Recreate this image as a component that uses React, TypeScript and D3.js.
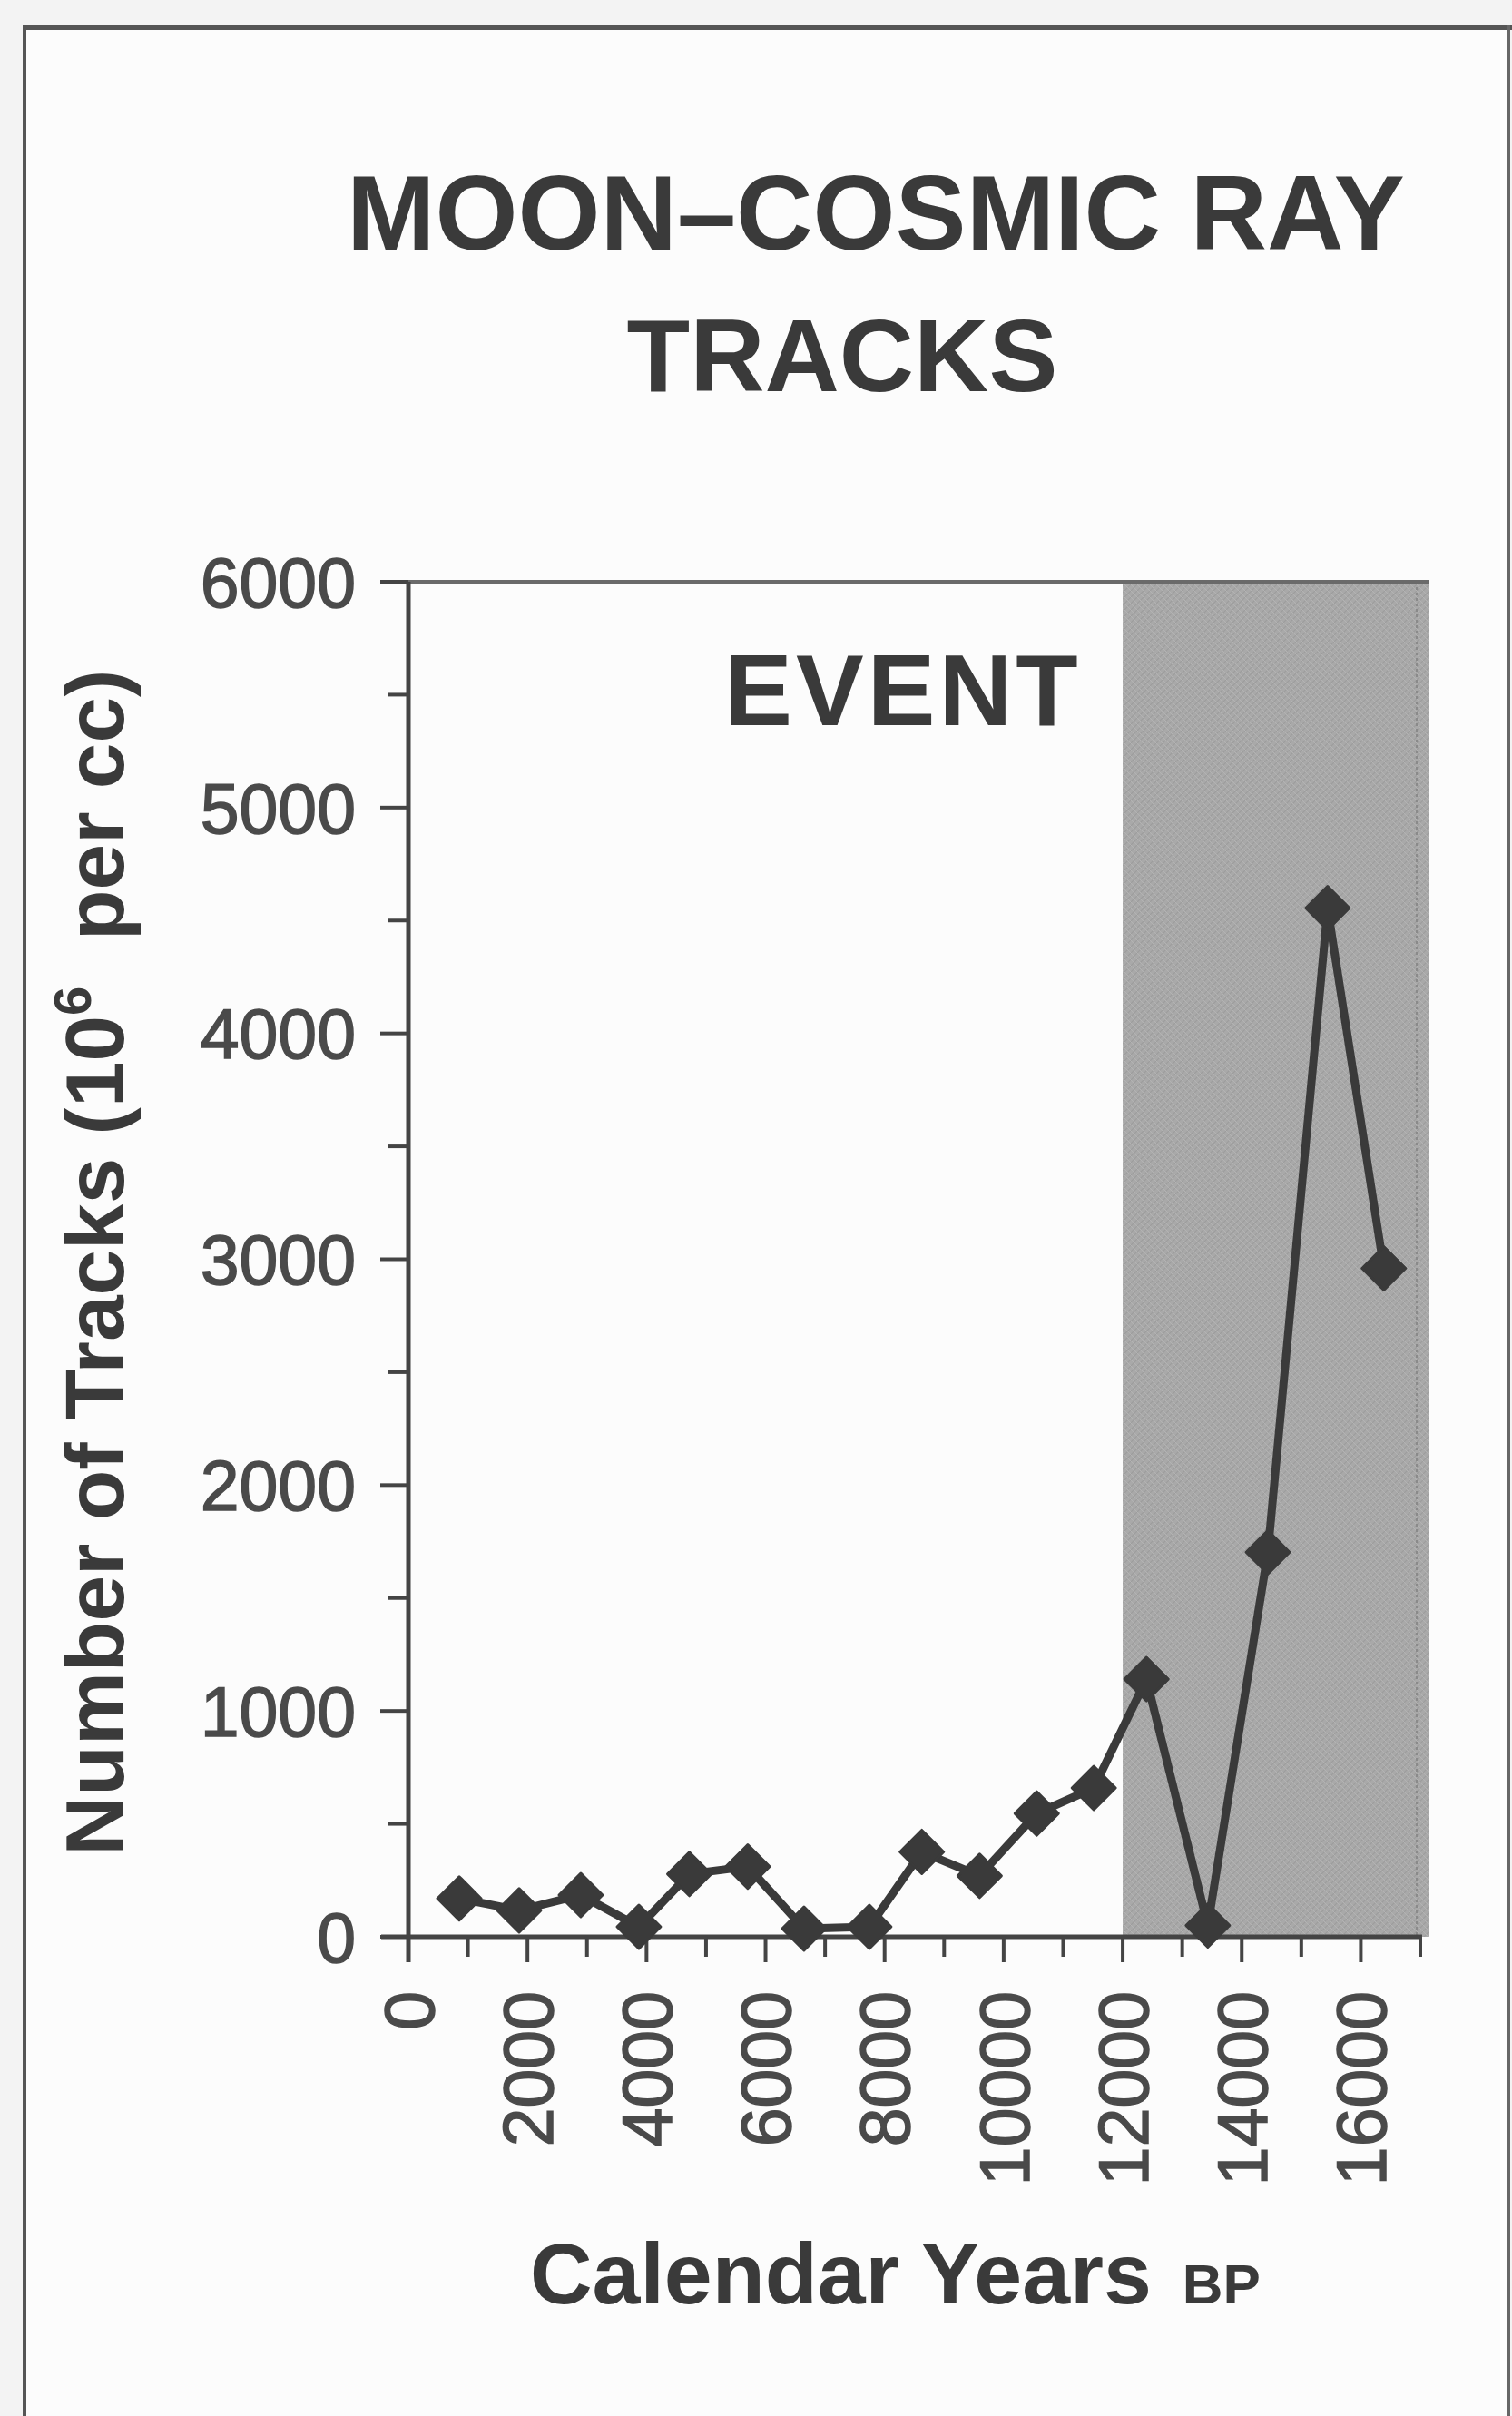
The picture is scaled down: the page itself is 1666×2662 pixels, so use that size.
import React from "react";
import * as d3 from "d3";

// ---- data ----
const years = [854, 1860, 2896, 3872, 4720, 5701, 6646, 7744, 8625, 9596, 10555, 11514, 12399, 13430, 14439, 15442, 16387];
const tracks = [170, 117, 185, 44, 278, 311, 36, 44, 376, 270, 546, 659, 1141, 50, 1703, 4555, 2960];
const yMajorTicks = [0, 1000, 2000, 3000, 4000, 5000, 6000];
const yMinorTicks = [500, 1500, 2500, 3500, 4500, 5500];
const xMajorTicks = [0, 2000, 4000, 6000, 8000, 10000, 12000, 14000, 16000];
const xMinorTicks = [1000, 3000, 5000, 7000, 9000, 11000, 13000, 15000, 17000];
const eventSpan = [12000, 17000];
const titleLines = ["MOON\u2013COSMIC RAY", "TRACKS"];
const eventLabel = "EVENT";
const yTitle = ["Number of Tracks (10", "6", "  per cc)"];
const xTitle = ["Calendar Years", "BP"];

const W = 1666;
const H = 2662;
const FONT = "'Liberation Sans', Arial, Helvetica, sans-serif";
const INK = "#3a3a3a";

export default function App() {
  const x = d3.scaleLinear().domain([0, 17000]).range([450, 1565]);
  const y = d3.scaleLinear().domain([0, 6000]).range([2134, 641]);
  const line = d3
    .line<number>()
    .x((_, i) => x(years[i]))
    .y((d) => y(d))
    .curve(d3.curveLinear);
  const diamond = d3.symbol().type(d3.symbolSquare).size(1150)();

  const x0 = x(0);
  const y0 = y(0);
  const yTop = y(6000);

  return (
    <div style={{ position: "absolute", left: 0, top: 0, width: W, height: H }}>
      <svg width={W} height={H} viewBox={`0 0 ${W} ${H}`} style={{ display: "block" }}>
        <defs>
          <pattern id="hatch" width="7" height="7" patternUnits="userSpaceOnUse">
            <rect width="7" height="7" fill="#a9a9a9" />
            <path d="M0,7 L7,0" stroke="#9d9d9d" strokeWidth="1.2" />
            <path d="M0,0 L7,7" stroke="#b3b3b3" strokeWidth="1" />
          </pattern>
        </defs>
        <rect x={0} y={0} width={W} height={H} fill="#f3f3f3" />
        <rect x={27} y={30} width={1635} height={H} fill="#fcfcfc" />
        {/* frame */}
        <line x1={27} y1={30} x2={W} y2={30} stroke="#555" strokeWidth={6} />
        <line x1={27} y1={28} x2={27} y2={H} stroke="#555" strokeWidth={4} />
        <line x1={1662} y1={28} x2={1662} y2={H} stroke="#666" strokeWidth={4} />

        {/* title */}
        <text x={965} y={275} textAnchor="middle" fontFamily={FONT} fontWeight="bold" fontSize={117} fill={INK}>
          {titleLines[0]}
        </text>
        <text x={928} y={431} textAnchor="middle" fontFamily={FONT} fontWeight="bold" fontSize={114} fill={INK}>
          {titleLines[1]}
        </text>

        {/* event shading */}
        <rect
          x={x(eventSpan[0])}
          y={yTop}
          width={x(eventSpan[1]) - x(eventSpan[0]) + 10}
          height={y0 - yTop}
          fill="url(#hatch)"
        />
        <line
          x1={x(eventSpan[1]) - 4}
          x2={x(eventSpan[1]) - 4}
          y1={yTop}
          y2={y0}
          stroke="#8a8a8a"
          strokeWidth={2}
          strokeDasharray="3 3"
        />

        {/* plot top border */}
        <line x1={x0 - 30} x2={x(eventSpan[1]) + 10} y1={yTop} y2={yTop} stroke="#6a6a6a" strokeWidth={4} />

        {/* event label */}
        <text x={995} y={799} textAnchor="middle" fontFamily={FONT} fontWeight="bold" fontSize={112} letterSpacing={4} fill={INK}>
          {eventLabel}
        </text>

        {/* y axis */}
        <line x1={x0} x2={x0} y1={yTop} y2={y0 + 28} stroke="#444" strokeWidth={5} />
        {yMajorTicks.map((t) => (
          <g key={"ym" + t}>
            <line x1={x0 - 31} x2={x0} y1={y(t)} y2={y(t)} stroke="#444" strokeWidth={4} />
            <text
              x={392}
              y={y(t)}
              dy="0.36em"
              textAnchor="end"
              fontFamily={FONT}
              fontSize={77}
              fill="#4a4a4a"
              stroke="#4a4a4a"
              strokeWidth={1.5}
            >
              {t}
            </text>
          </g>
        ))}
        {yMinorTicks.map((t) => (
          <line key={"yn" + t} x1={x0 - 22} x2={x0} y1={y(t)} y2={y(t)} stroke="#444" strokeWidth={4} />
        ))}

        {/* x axis */}
        <line x1={x0 - 30} x2={x(17000) + 2} y1={y0} y2={y0} stroke="#444" strokeWidth={5} />
        {xMajorTicks.map((t) => (
          <g key={"xm" + t}>
            <line x1={x(t)} x2={x(t)} y1={y0} y2={y0 + 28} stroke="#444" strokeWidth={4} />
            <text
              transform={`translate(${x(t)},2194) rotate(-90)`}
              dy="0.36em"
              textAnchor="end"
              fontFamily={FONT}
              fontSize={77}
              fill="#4a4a4a"
              stroke="#4a4a4a"
              strokeWidth={1.5}
            >
              {t}
            </text>
          </g>
        ))}
        {xMinorTicks.map((t) => (
          <line key={"xn" + t} x1={x(t)} x2={x(t)} y1={y0} y2={y0 + 22} stroke="#444" strokeWidth={4} />
        ))}

        {/* data line */}
        <path d={line(tracks) || ""} fill="none" stroke={INK} strokeWidth={9} strokeLinejoin="round" />
        {tracks.map((v, i) => (
          <path
            key={"pt" + i}
            d={diamond || ""}
            transform={`translate(${x(years[i])},${y(v)}) rotate(45)`}
            fill={INK}
            stroke={INK}
            strokeWidth={3}
            strokeLinejoin="round"
          />
        ))}

        {/* axis titles */}
        <text
          transform="translate(136,1391) rotate(-90)"
          textAnchor="middle"
          fontFamily={FONT}
          fontWeight="bold"
          fontSize={91}
          fill={INK}
        >
          <tspan>{yTitle[0]}</tspan>
          <tspan fontSize={58} dy={-36}>{yTitle[1]}</tspan>
          <tspan dy={36} style={{ whiteSpace: "pre" }}>{yTitle[2]}</tspan>
        </text>
        <text x={584} y={2538} fontFamily={FONT} fontWeight="bold" fontSize={95} fill={INK}>
          <tspan>{xTitle[0]}</tspan>
          <tspan dx={34} fontSize={62}>{xTitle[1]}</tspan>
        </text>
      </svg>
    </div>
  );
}
